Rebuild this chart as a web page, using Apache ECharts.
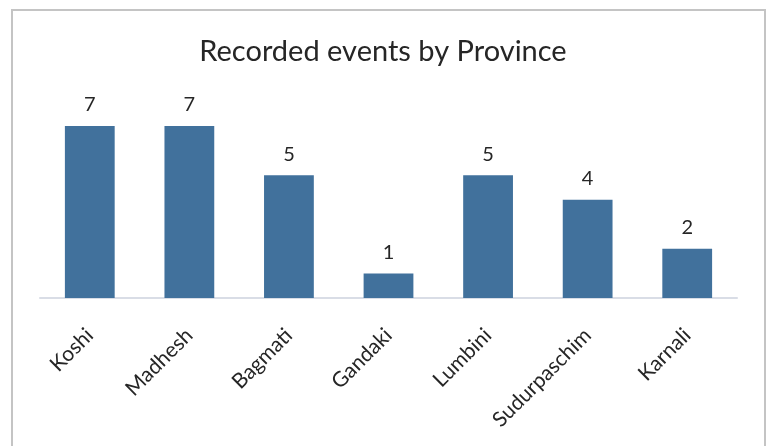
<!DOCTYPE html>
<html>
<head>
<meta charset="utf-8">
<script src="https://cdn.jsdelivr.net/npm/echarts@6/dist/echarts.min.js"></script>
<style>
  html, body { margin: 0; padding: 0; background: #fff; }
  #frame { position: absolute; left: 11px; top: 9px; width: 755px; height: 440px;
           border: 2px solid #c4c4c4; box-sizing: border-box; border-bottom: none; }
  #chart { position: absolute; left: 0; top: 0; width: 766px; height: 446px; }
</style>
</head>
<body>
<div id="frame"></div>
<div id="chart"></div>
<script>
const provinces = ['Koshi', 'Madhesh', 'Bagmati', 'Gandaki', 'Lumbini', 'Sudurpaschim', 'Karnali'];
const eventCounts = [7, 7, 5, 1, 5, 4, 2];

const chart = echarts.init(document.getElementById('chart'), null, { renderer: 'canvas' });
chart.setOption({
  animation: false,
  title: {
    text: 'Recorded events by Province',
    left: 'center',
    top: 32,
    textStyle: { fontFamily: 'Lato', fontSize: 29, fontWeight: 'normal', color: '#262626' }
  },
  grid: { left: 40, right: 29, top: 126, bottom: 148 },
  xAxis: {
    type: 'category',
    data: provinces,
    axisLine: { lineStyle: { color: '#d9dde6', width: 2 } },
    axisTick: { show: false },
    axisLabel: {
      rotate: 45,
      margin: 34,
      interval: 0,
      fontFamily: 'Lato',
      fontSize: 21,
      color: '#262626'
    }
  },
  yAxis: {
    type: 'value',
    min: 0,
    max: 7,
    show: false,
    splitLine: { show: false }
  },
  series: [{
    type: 'bar',
    data: eventCounts,
    barWidth: '50%',
    itemStyle: { color: '#41719c' },
    label: {
      show: true,
      position: 'top',
      distance: 11,
      fontFamily: 'Lato',
      fontSize: 20,
      color: '#262626'
    }
  }]
});
</script>
</body>
</html>
